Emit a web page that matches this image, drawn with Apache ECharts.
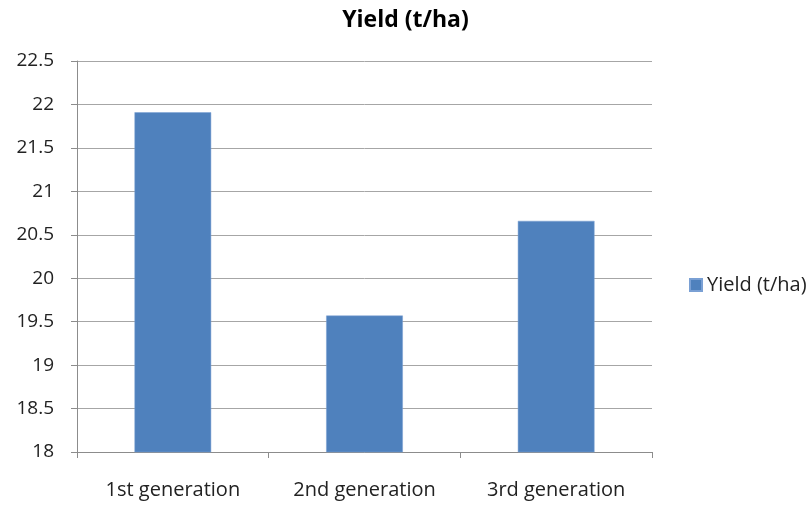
<!DOCTYPE html>
<html><head><meta charset="utf-8">
<script src="https://cdn.jsdelivr.net/npm/echarts@6/dist/echarts.min.js"></script>
<style>html,body{margin:0;padding:0;background:#fff}#c{width:811px;height:507px}</style>
</head><body><div id="c"></div>
<script>
const categories = ['1st generation', '2nd generation', '3rd generation'];
const yieldValues = [21.91, 19.57, 20.66];
const seriesName = 'Yield (t/ha)';
const titleText = 'Yield (t/ha)';

const chart = echarts.init(document.getElementById('c'));
const font = '"Open Sans", Lato, sans-serif';
chart.setOption({
  animation: false,
  backgroundColor: '#fff',
  title: {
    text: titleText, left: 'center', top: 4,
    textStyle: { fontFamily: font, fontSize: 23, fontWeight: 'bold', color: '#000' }
  },
  legend: {
    orient: 'vertical', left: 684, top: 270,
    itemWidth: 12, itemHeight: 12, itemGap: 6,
    icon: 'rect',
    textStyle: { fontFamily: font, fontSize: 20, color: '#222' },
    data: [seriesName]
  },
  grid: { left: 77, right: 159, top: 61, bottom: 55 },
  xAxis: {
    type: 'category', data: categories,
    axisLine: { lineStyle: { color: '#8c8c8c', width: 1 } },
    axisTick: { show: true, length: 6, lineStyle: { color: '#8c8c8c' } },
    axisLabel: { fontFamily: font, fontSize: 20, color: '#222', margin: 28 }
  },
  yAxis: {
    type: 'value', min: 18, max: 22.5, interval: 0.5,
    axisLine: { show: true, lineStyle: { color: '#8c8c8c', width: 1 } },
    axisTick: { show: true, length: 6, lineStyle: { color: '#8c8c8c' } },
    axisLabel: { fontFamily: font, fontSize: 19, color: '#222', margin: 23 },
    splitLine: { lineStyle: { color: '#a6a6a6', width: 1 } }
  },
  series: [{
    name: seriesName, type: 'bar', data: yieldValues,
    barWidth: '40%',
    itemStyle: { color: '#4f81bd', borderColor: '#7aa0d4', borderWidth: 0.5 }
  }]
});
</script></body></html>
